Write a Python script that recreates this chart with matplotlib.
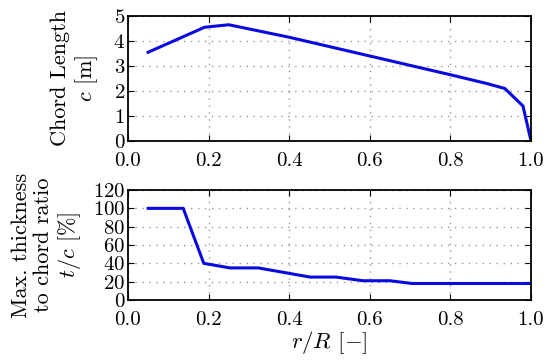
import matplotlib
matplotlib.use('Agg')
import matplotlib.pyplot as plt

plt.rcParams['font.family'] = 'serif'
plt.rcParams['font.serif'] = ['cmr10']
plt.rcParams['mathtext.fontset'] = 'cm'
plt.rcParams['axes.unicode_minus'] = False
plt.rcParams['axes.formatter.use_mathtext'] = True

# chord distribution
r_chord = [0.05, 0.19, 0.25, 0.4, 0.6, 0.8, 0.89, 0.935, 0.98, 1.0]
chord = [3.55, 4.55, 4.65, 4.15, 3.4, 2.65, 2.3, 2.1, 1.4, 0.0]

# thickness to chord ratio
r_thick = [0.05, 0.137, 0.188, 0.253, 0.323, 0.452, 0.516, 0.583, 0.65, 0.705, 1.0]
thick = [100, 100, 40, 35, 35, 25, 25, 21, 21, 18, 18]

xticks = [0.0, 0.2, 0.4, 0.6, 0.8, 1.0]

fig = plt.figure(figsize=(5.5, 3.62), dpi=100)
ax1 = fig.add_axes([0.2327, 0.6105, 0.7328, 0.3453])
ax2 = fig.add_axes([0.2327, 0.1713, 0.7328, 0.3038])

color = '#0a0ae0'
ax1.plot(r_chord, chord, color=color, lw=2.2)
ax2.plot(r_thick, thick, color=color, lw=2.2)

ax1.set_ylim(0, 5)
ax1.set_yticks([0, 1, 2, 3, 4, 5])
ax2.set_ylim(0, 120)
ax2.set_yticks([0, 20, 40, 60, 80, 100, 120])

for ax in (ax1, ax2):
    ax.set_xlim(0, 1)
    ax.set_xticks(xticks)
    ax.set_xticklabels(['%.1f' % x for x in xticks])
    ax.grid(True, color='#999999', linestyle=(0, (1, 4)), linewidth=1)
    ax.tick_params(direction='in', top=True, right=True, labelsize=15, length=4)
    ax.tick_params(axis='x', pad=8)
    ax.tick_params(axis='y', pad=2)
    for s in ax.spines.values():
        s.set_linewidth(1.3)

ax1.set_ylabel('Chord Length\n$c$ [m]', fontsize=16, linespacing=1.15)
ax1.yaxis.set_label_coords(-0.07, 0.5)
ax2.set_ylabel('Max. thickness\nto chord ratio\n$t/c$ [%]', fontsize=16, linespacing=1.15)
ax2.yaxis.set_label_coords(-0.112, 0.5)
ax2.set_xlabel('$r/R$ [$-$]', fontsize=16.5, labelpad=0)

plt.savefig('out.png', dpi=100)
